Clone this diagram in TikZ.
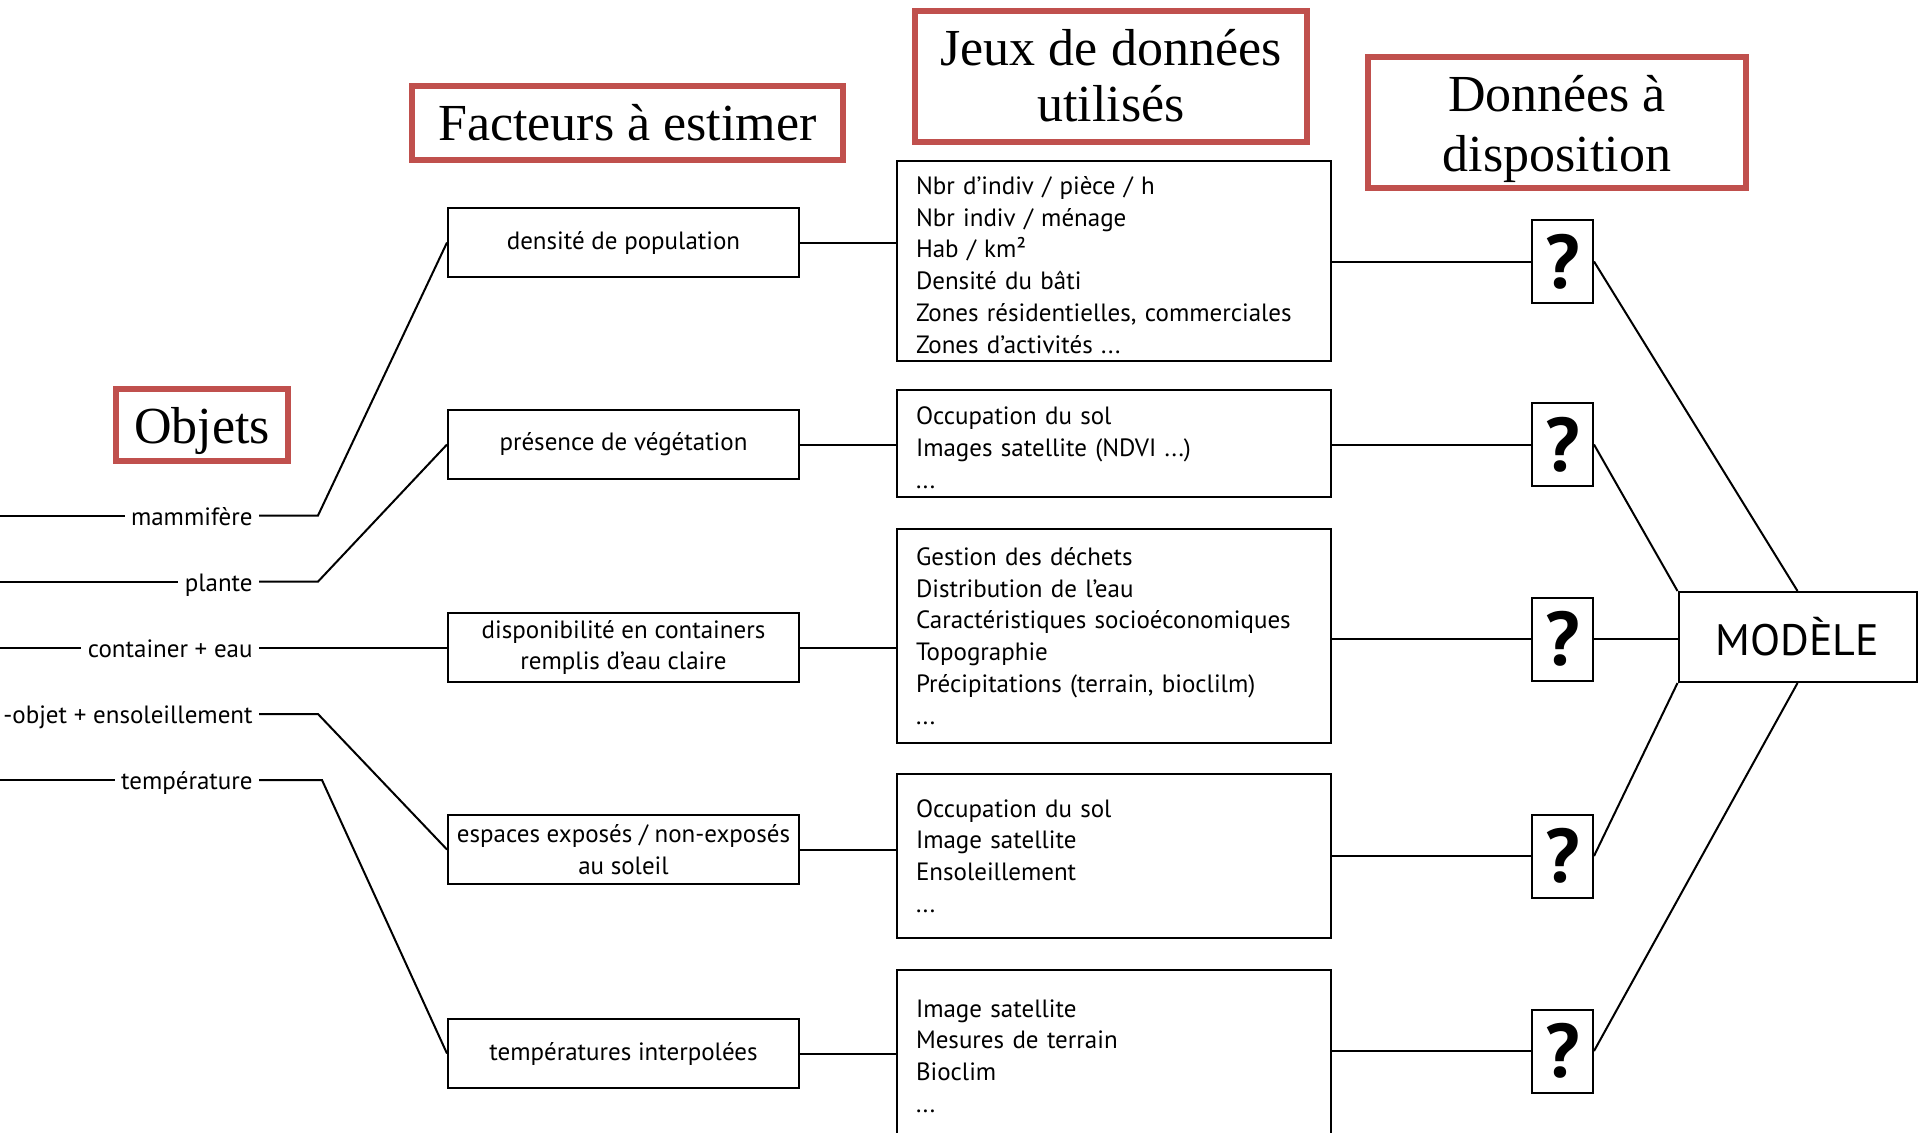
\documentclass[tikz,border=0pt]{standalone}
\usepackage{fontspec}
\setmainfont{Liberation Serif}
\setsansfont{PT Sans}
\usepackage{tikz}
\usetikzlibrary{positioning}
\definecolor{titlered}{RGB}{192,80,77}
\tikzstyle{line} = [draw, line width=1pt]
\tikzstyle{head} = [draw=titlered, line width=3pt, align=center, inner sep=0pt, font=\rmfamily\fontsize{26}{28}\selectfont]
\tikzstyle{fbox} = [draw, line width=1pt, minimum width=175.5pt, minimum height=34.5pt, inner sep=0pt, align=center, font=\sffamily\fontsize{12.5}{15.9}\selectfont]
\tikzstyle{dbox} = [draw, line width=1pt, text width=198pt, inner xsep=9.5pt, inner ysep=0pt, align=left, font=\sffamily\fontsize{12.5}{15.9}\selectfont]
\tikzstyle{qbox} = [draw, line width=1pt, minimum width=30.5pt, minimum height=41.5pt, inner sep=0pt, font=\sffamily\bfseries\fontsize{38}{38}\selectfont]
\tikzstyle{mbox} = [draw, line width=1pt, minimum width=119pt, minimum height=45pt, inner sep=0pt, font=\sffamily\fontsize{22}{24}\selectfont]
\tikzstyle{obj}  = [anchor=east, inner xsep=3pt, inner ysep=0pt, text height=11pt, text depth=1.2pt, font=\sffamily\fontsize{12.5}{15.9}\selectfont]

\begin{document}
\begin{tikzpicture}[x=0.5pt, y=-0.5pt]

\useasboundingbox (0,0) rectangle (1920,1132);

% titles
\node [head, minimum width=86pt,    minimum height=36pt, text height=20pt, text depth=1.6pt] at (  202   ,  425 ) (objets)   {Objets};
\node [head, minimum width=215.5pt, minimum height=37pt]   at (  627.5 ,  123 ) (facteurs) {Facteurs à estimer};
\node [head, minimum width=196pt,   minimum height=65.5pt] at ( 1111   ,   76 ) (jeux)     {Jeux de données\\utilisés};
\node [head, minimum width=189pt,   minimum height=65.5pt] at ( 1557   ,  122 ) (dispo)    {\rule{0pt}{25pt}Données à\\[2pt]disposition};

% facteurs
\node [fbox] at ( 623.5 ,  242.5 ) (f1) {densité de population};
\node [fbox] at ( 623.5 ,  444.5 ) (f2) {présence de végétation};
\node [fbox] at ( 623.5 ,  647.5 ) (f3) {disponibilité en containers\\remplis d’eau claire};
\node [fbox] at ( 623.5 ,  849.5 ) (f4) {espaces exposés / non-exposés\\au soleil};
\node [fbox] at ( 623.5 , 1053.5 ) (f5) {températures interpolées};

% jeux de donnees
\node [dbox, minimum height=100pt]  at ( 1114 ,  261   ) (d1) {\rule{0pt}{13pt}Nbr d’indiv / pièce / h\\Nbr indiv / ménage\\Hab / km²\\Densité du bâti\\Zones résidentielles, commerciales\\Zones d’activités ...};
\node [dbox, minimum height=53.5pt] at ( 1114 ,  443.5 ) (d2) {\rule{0pt}{13pt}Occupation du sol\\Images satellite (NDVI ...)\\...};
\node [dbox, minimum height=107pt]  at ( 1114 ,  636   ) (d3) {Gestion des déchets\\Distribution de l’eau\\Caractéristiques socioéconomiques\\Topographie\\Précipitations (terrain, bioclilm)\\...};
\node [dbox, minimum height=82pt]   at ( 1114 ,  856   ) (d4) {Occupation du sol\\Image satellite\\Ensoleillement\\...};
\node [dbox, minimum height=86pt]   at ( 1114 , 1056   ) (d5) {Image satellite\\Mesures de terrain\\Bioclim\\...};

% donnees a disposition
\node [qbox] at ( 1562.5 ,  261.5 ) (q1) {?};
\node [qbox] at ( 1562.5 ,  444.5 ) (q2) {?};
\node [qbox] at ( 1562.5 ,  639   ) (q3) {?};
\node [qbox] at ( 1562.5 ,  856   ) (q4) {?};
\node [qbox] at ( 1562.5 , 1051   ) (q5) {?};

\node [mbox] at ( 1797.5 ,  637   ) (model) {MODÈLE};

% objets
\node [obj] at ( 259 , 515.5 ) (o1) {mammifère};
\node [obj] at ( 259 , 581.6 ) (o2) {plante};
\node [obj] at ( 259 , 647.5 ) (o3) {container + eau};
\node [obj] at ( 259 , 714   ) (o4) {-objet + ensoleillement};
\node [obj] at ( 259 , 780   ) (o5) {température};

\coordinate (l1) at (   0 , 515.5 );
\coordinate (l2) at (   0 , 581.6 );
\coordinate (l3) at (   0 , 647.5 );
\coordinate (l5) at (   0 , 780   );
\coordinate (k1) at ( 318 , 515.5 );
\coordinate (k2) at ( 318 , 581.6 );
\coordinate (k4) at ( 318 , 714   );
\coordinate (k5) at ( 322 , 780   );

%  edges
\path [line]
  (l1) edge (o1)
  (l2) edge (o2)
  (l3) edge (o3)
  (l5) edge (o5)
  (o3) edge (f3);

\draw [line] (o1) -- (k1) -- (f1.west);
\draw [line] (o2) -- (k2) -- (f2.west);
\draw [line] (o4) -- (k4) -- (f4.west);
\draw [line] (o5) -- (k5) -- (f5.west);

\draw [line] (f1.east) -- (f1.east -| d1.west);
\draw [line] (f2.east) -- (f2.east -| d2.west);
\draw [line] (f3.east) -- (f3.east -| d3.west);
\draw [line] (f4.east) -- (f4.east -| d4.west);
\draw [line] (f5.east) -- (f5.east -| d5.west);

\draw [line] (d1.east |- q1) -- (q1.west);
\draw [line] (d2.east |- q2) -- (q2.west);
\draw [line] (d3.east |- q3) -- (q3.west);
\draw [line] (d4.east |- q4) -- (q4.west);
\draw [line] (d5.east |- q5) -- (q5.west);

\path [line]
  (q1.east) edge (model.north)
  (q2.east) edge (model.north west)
  (q3.east) edge (q3.east -| model.west)
  (q4.east) edge (model.south west)
  (q5.east) edge (model.south);

\end{tikzpicture}
\end{document}
